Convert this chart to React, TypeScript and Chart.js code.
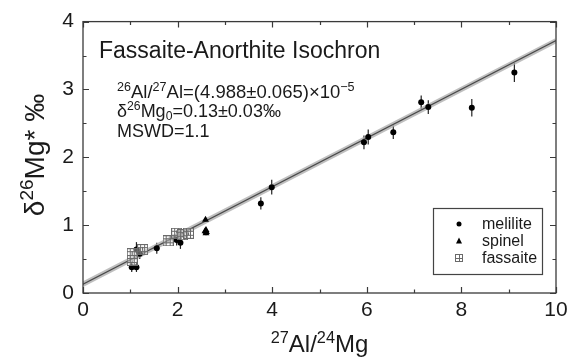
import React, { useEffect, useRef } from "react";
import { Chart, registerables } from "chart.js";
Chart.register(...registerables);

const FONT = '"Liberation Sans", Arial, Helvetica, sans-serif';

// melilite
const melX = [1.03, 1.13, 1.13, 1.2, 1.56, 1.98, 2.06, 3.76, 3.99, 5.94, 6.03, 6.56, 7.15, 7.3, 8.22, 9.12];
const melY = [0.38, 0.38, 0.64, 0.58, 0.66, 0.78, 0.74, 1.32, 1.56, 2.22, 2.3, 2.37, 2.81, 2.74, 2.73, 3.25];
const melErr = [0.07, 0.07, 0.11, 0.08, 0.08, 0.08, 0.09, 0.09, 0.11, 0.1, 0.11, 0.1, 0.1, 0.1, 0.13, 0.14];
// spinel
const spX = [2.59, 2.6, 2.58, 2.61, 2.6];
const spY = [1.08, 0.93, 0.91, 0.9, 0.88];
const spErr = [0.03, 0.03, 0.03, 0.03, 0.03];
// fassaite
const faX = [1.04, 1.04, 1.26, 1.8, 1.98, 2.1, 2.23];
const faY = [0.58, 0.48, 0.64, 0.77, 0.88, 0.86, 0.88];
const faErr = [0.04, 0.04, 0.04, 0.03, 0.04, 0.04, 0.03];
// isochron
const isoX = [0, 10];
const isoY = [0.13, 3.72];
// axes
const xMin = 0, xMax = 10, xStep = 2, xMinorStep = 1;
const yMin = 0, yMax = 4, yStep = 1, yMinorStep = 0.5;

const legendLabels = ["melilite", "spinel", "fassaite"];

type Seg = { t: string; k?: "sup" | "sub" };

function richWidth(ctx: CanvasRenderingContext2D, segs: Seg[], size: number) {
  let w = 0;
  for (const s of segs) {
    ctx.font = `${s.k ? size * 0.68 : size}px ${FONT}`;
    w += ctx.measureText(s.t).width;
  }
  return w;
}

function drawRich(ctx: CanvasRenderingContext2D, segs: Seg[], x: number, y: number, size: number) {
  let cx = x;
  ctx.textBaseline = "alphabetic";
  ctx.textAlign = "left";
  for (const s of segs) {
    const fs = s.k ? size * 0.68 : size;
    ctx.font = `${fs}px ${FONT}`;
    const dy = s.k === "sup" ? -size * 0.38 : s.k === "sub" ? size * 0.2 : 0;
    ctx.fillText(s.t, cx, y + dy);
    cx += ctx.measureText(s.t).width;
  }
}

function makeGridSquare(size: number, cells: number) {
  const c = document.createElement("canvas");
  c.width = size;
  c.height = size;
  const g = c.getContext("2d")!;
  g.fillStyle = "rgba(255,255,255,0.35)";
  g.fillRect(0, 0, size, size);
  g.strokeStyle = "#6a6a6a";
  g.lineWidth = 1;
  g.strokeRect(0.5, 0.5, size - 1, size - 1);
  for (let i = 1; i < cells; i++) {
    const p = Math.round((i * (size - 1)) / cells) + 0.5;
    g.beginPath();
    g.moveTo(p, 0);
    g.lineTo(p, size);
    g.moveTo(0, p);
    g.lineTo(size, p);
    g.stroke();
  }
  return c;
}

const customPlugin = {
  id: "custom",
  beforeDatasetsDraw(chart: any) {
    const ctx = chart.ctx as CanvasRenderingContext2D;
    const xs = chart.scales.x, ys = chart.scales.y;
    ctx.save();
    ctx.strokeStyle = "#222";
    ctx.lineWidth = 1.2;
    chart.data.datasets.forEach((ds: any) => {
      if (!ds.errors) return;
      ds.data.forEach((p: any, i: number) => {
        const e = ds.errors[i];
        const px = xs.getPixelForValue(p.x);
        ctx.beginPath();
        ctx.moveTo(px, ys.getPixelForValue(p.y - e));
        ctx.lineTo(px, ys.getPixelForValue(p.y + e));
        ctx.stroke();
      });
    });
    ctx.restore();
  },
  afterDraw(chart: any) {
    const ctx = chart.ctx as CanvasRenderingContext2D;
    const a = chart.chartArea;
    const xs = chart.scales.x, ys = chart.scales.y;
    ctx.save();
    // frame
    ctx.strokeStyle = "#3a3a3a";
    ctx.lineWidth = 1.3;
    ctx.strokeRect(a.left, a.top, a.right - a.left, a.bottom - a.top);
    // ticks inside
    ctx.lineWidth = 1.2;
    for (let v = xMin; v <= xMax + 1e-9; v += xMinorStep) {
      const major = Math.abs(v / xStep - Math.round(v / xStep)) < 1e-6;
      const len = major ? 6 : 3.5;
      const px = Math.round(xs.getPixelForValue(v)) + 0.5;
      ctx.beginPath();
      ctx.moveTo(px, a.bottom);
      ctx.lineTo(px, a.bottom - len);
      ctx.moveTo(px, a.top);
      ctx.lineTo(px, a.top + len);
      ctx.stroke();
    }
    for (let v = yMin; v <= yMax + 1e-9; v += yMinorStep) {
      const major = Math.abs(v / yStep - Math.round(v / yStep)) < 1e-6;
      const len = major ? 6 : 3.5;
      const py = Math.round(ys.getPixelForValue(v)) + 0.5;
      ctx.beginPath();
      ctx.moveTo(a.left, py);
      ctx.lineTo(a.left + len, py);
      ctx.moveTo(a.right, py);
      ctx.lineTo(a.right - len, py);
      ctx.stroke();
    }

    // annotations
    ctx.fillStyle = "#1a1a1a";
    ctx.font = `23px ${FONT}`;
    ctx.textBaseline = "alphabetic";
    ctx.textAlign = "left";
    ctx.fillText("Fassaite-Anorthite Isochron", a.left + 16, a.top + 36);
    drawRich(ctx, [
      { t: "26", k: "sup" }, { t: "Al/" }, { t: "27", k: "sup" }, { t: "Al=(4.988±0.065)×10" }, { t: "−5", k: "sup" },
    ], a.left + 34, a.top + 76, 18.5);
    drawRich(ctx, [
      { t: "δ" }, { t: "26", k: "sup" }, { t: "Mg" }, { t: "0", k: "sub" }, { t: "=0.13±0.03‰" },
    ], a.left + 34, a.top + 95, 18);
    drawRich(ctx, [{ t: "MSWD=1.1" }], a.left + 34, a.top + 115, 18);

    // x title
    const xt: Seg[] = [{ t: "27", k: "sup" }, { t: "Al/" }, { t: "24", k: "sup" }, { t: "Mg" }];
    const xw = richWidth(ctx, xt, 24);
    drawRich(ctx, xt, (a.left + a.right) / 2 - xw / 2, 352, 24);

    // y title
    const yt: Seg[] = [{ t: "δ" }, { t: "26", k: "sup" }, { t: "Mg* ‰" }];
    const yw = richWidth(ctx, yt, 28);
    ctx.save();
    ctx.translate(44, 155);
    ctx.rotate(-Math.PI / 2);
    drawRich(ctx, yt, -yw / 2, 0, 28);
    ctx.restore();

    // legend
    const lx = a.right - 123, ly = a.bottom - 85, lw = 109, lh = 66;
    ctx.strokeStyle = "#444";
    ctx.lineWidth = 1.2;
    ctx.strokeRect(lx + 0.5, ly + 0.5, lw, lh);
    const mx = lx + 26;
    const rows = [ly + 16, ly + 33, ly + 50];
    ctx.fillStyle = "#000";
    ctx.beginPath();
    ctx.arc(mx, rows[0], 2.5, 0, Math.PI * 2);
    ctx.fill();
    ctx.beginPath();
    ctx.moveTo(mx, rows[1] - 3.5);
    ctx.lineTo(mx + 3, rows[1] + 2.5);
    ctx.lineTo(mx - 3, rows[1] + 2.5);
    ctx.closePath();
    ctx.fill();
    ctx.drawImage(makeGridSquare(8, 2), mx - 4, rows[2] - 4);
    ctx.fillStyle = "#1a1a1a";
    ctx.font = `16px ${FONT}`;
    ctx.textBaseline = "middle";
    legendLabels.forEach((l, i) => ctx.fillText(l, lx + 49, rows[i] + 1));
    ctx.restore();
  },
};

export default function App() {
  const ref = useRef<HTMLCanvasElement>(null);
  useEffect(() => {
    const faImg = makeGridSquare(11, 3);
    const pts = (xs: number[], ys: number[]) => xs.map((x, i) => ({ x, y: ys[i] }));
    const chart = new Chart(ref.current!, {
      type: "scatter",
      data: {
        datasets: [
          {
            label: "melilite",
            data: pts(melX, melY),
            errors: melErr,
            pointStyle: "circle",
            pointRadius: 3,
            backgroundColor: "#000",
            borderColor: "#000",
            borderWidth: 0,
            order: 1,
          } as any,
          {
            label: "spinel",
            data: pts(spX, spY),
            errors: spErr,
            pointStyle: "triangle",
            pointRadius: 4,
            backgroundColor: "#000",
            borderColor: "#000",
            borderWidth: 0,
            order: 2,
          } as any,
          {
            label: "fassaite",
            data: pts(faX, faY),
            errors: faErr,
            pointStyle: faImg,
            pointRadius: 5,
            order: 0,
          } as any,
          {
            label: "band",
            data: pts(isoX, isoY),
            showLine: true,
            pointRadius: 0,
            borderColor: "rgba(170,170,170,0.75)",
            borderWidth: 5,
            order: 11,
          } as any,
          {
            label: "isochron",
            data: pts(isoX, isoY),
            showLine: true,
            pointRadius: 0,
            borderColor: "#4a4a4a",
            borderWidth: 1.1,
            order: 10,
          } as any,
        ],
      },
      options: {
        animation: false,
        responsive: false,
        events: [],
        layout: { padding: { top: 18, right: 17, left: 0, bottom: 0 } },
        plugins: { legend: { display: false }, tooltip: { enabled: false } },
        scales: {
          x: {
            type: "linear",
            min: xMin,
            max: xMax,
            grid: { display: false, drawTicks: false },
            border: { display: false },
            ticks: { stepSize: xStep, padding: 5, color: "#1a1a1a", font: { size: 21, family: FONT } },
            afterFit(s: any) { s.height = 67; },
          },
          y: {
            type: "linear",
            min: yMin,
            max: yMax,
            grid: { display: false, drawTicks: false },
            border: { display: false },
            ticks: { stepSize: yStep, padding: 9, color: "#1a1a1a", font: { size: 21, family: FONT } },
            afterFit(s: any) { s.width = 83; },
          },
        },
      } as any,
      plugins: [customPlugin],
    });
    return () => chart.destroy();
  }, []);
  return (
    <div style={{ position: "absolute", left: 0, top: 0, width: 573, height: 360, background: "#fff" }}>
      <canvas ref={ref} width={573} height={360} style={{ width: 573, height: 360, display: "block" }} />
    </div>
  );
}
